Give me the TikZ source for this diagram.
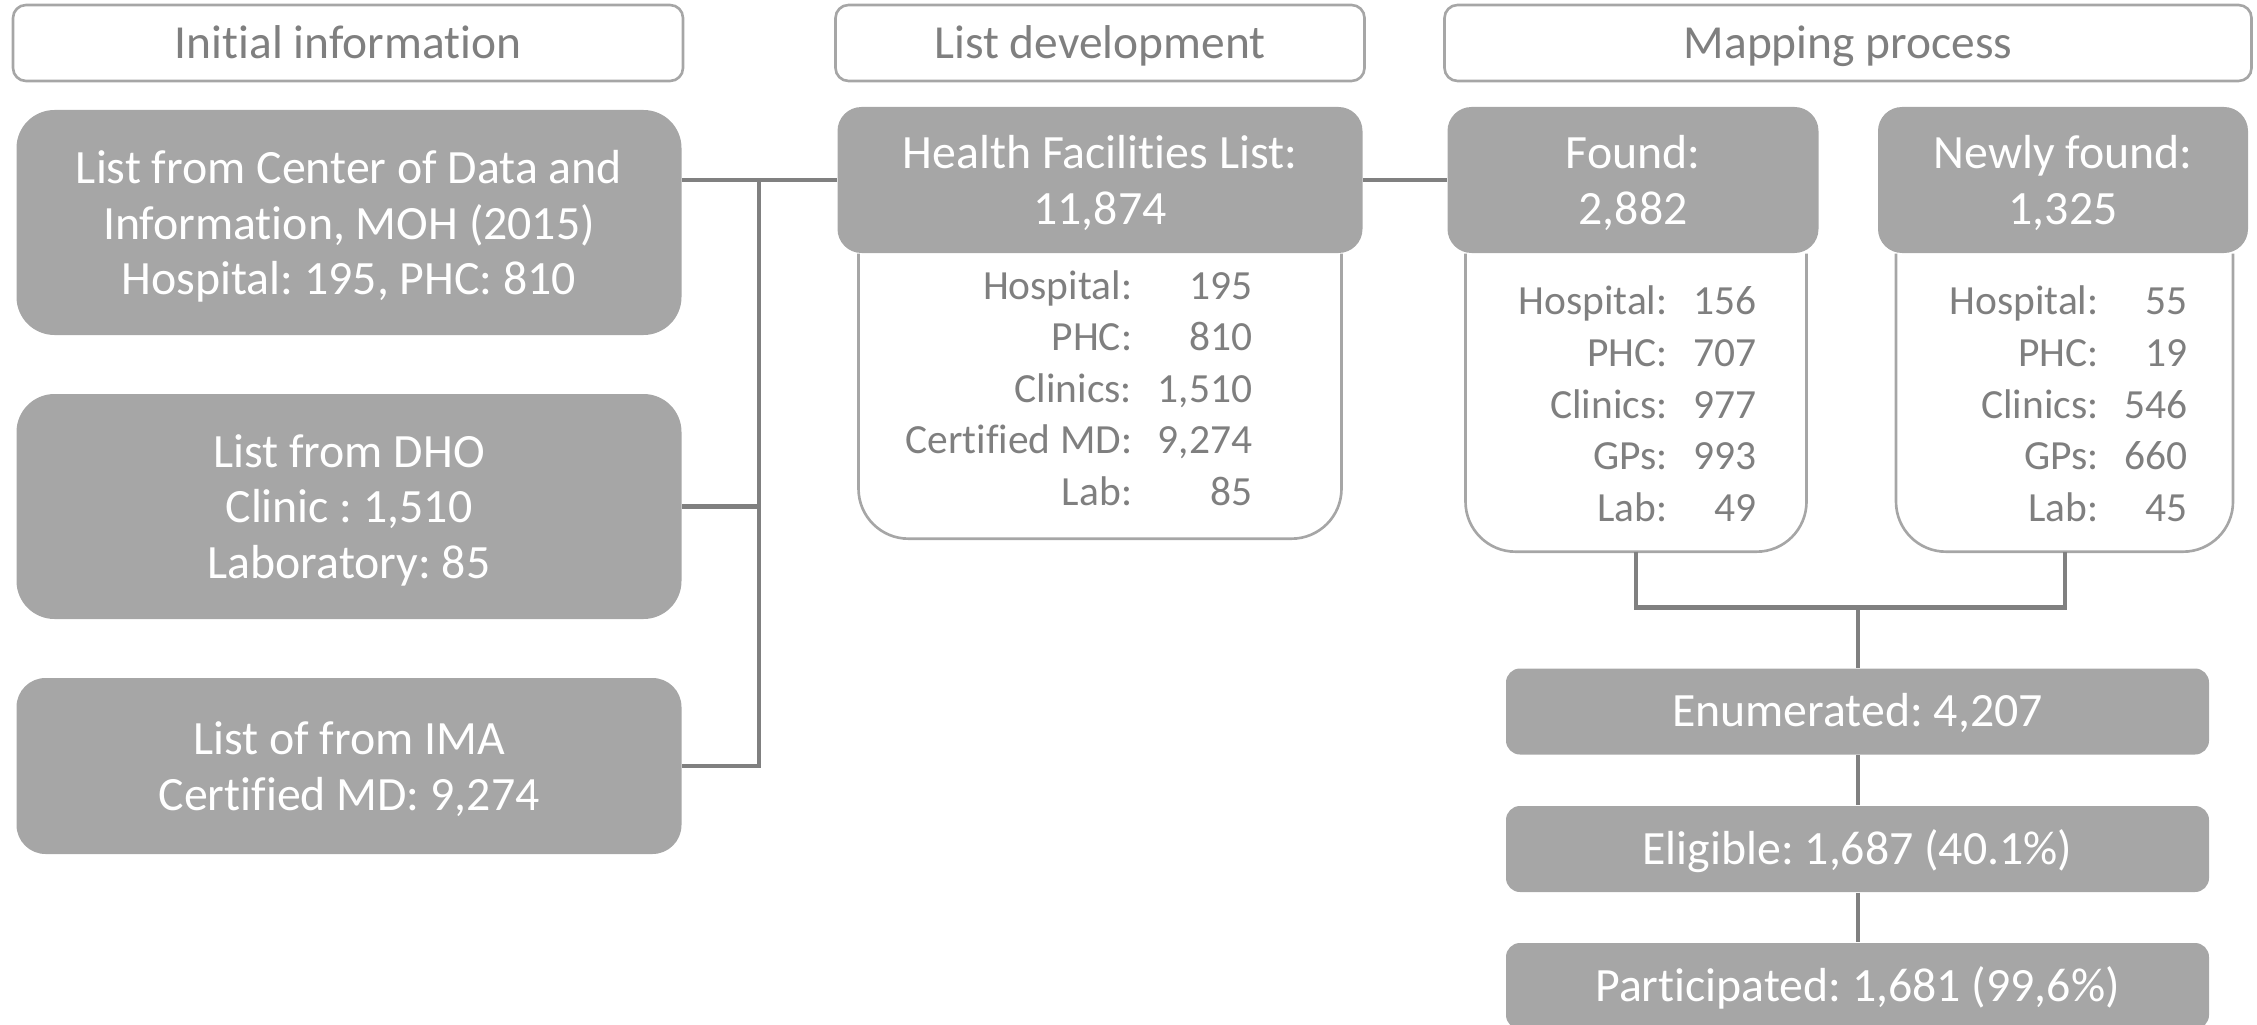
\documentclass[tikz,border=0pt]{standalone}
\usepackage{fontspec}
\setmainfont{Carlito}[Ligatures=NoCommon]
\frenchspacing
\usetikzlibrary{positioning}
\definecolor{boxgray}{HTML}{A6A6A6}
\definecolor{txtgray}{HTML}{7F7F7F}
\definecolor{linegray}{HTML}{808080}
\tikzset{
  header/.style={draw=boxgray, line width=0.75pt, rounded corners=0.13cm, text=txtgray,
    minimum height=0.76cm, text height=11.4pt, text depth=2.7pt,
    font=\fontsize{13.5}{16}\selectfont},
  srcbox/.style={fill=boxgray, text=white, align=center, inner sep=0pt, text depth=0pt,
    font=\fontsize{13.6}{15.9}\selectfont},
  onerow/.style={srcbox, text height=11.5pt, text depth=2.7pt},
  tabbox/.style={inner sep=0pt, outer sep=0pt},
  rows/.style={text=txtgray, inner sep=0pt, anchor=base east,
    font=\fontsize{11.8}{14.7}\selectfont},
  rim/.style={draw=boxgray, line width=0.75pt, rounded corners=0.5cm},
  link/.style={draw=linegray, line width=1.15pt},
}
\begin{document}
\begin{tikzpicture}[x=1cm, y=-1cm]
\useasboundingbox (0,0) rectangle (22.57,10.25);
% Encabezados
\node [header, minimum width=6.70cm] (hInit) at (3.48,0.43) {Initial information};
\node [header, minimum width=5.29cm] (hList) at (11.00,0.43) {List development};
\node [header, minimum width=8.07cm] (hMap)  at (18.48,0.43) {Mapping process};
% Fuentes
\node [srcbox, minimum width=6.65cm, minimum height=2.25cm, rounded corners=0.38cm] (cdi) at (3.49,2.225)
  {List from Center of Data and\\Information, MOH (2015)\\Hospital: 195, PHC: 810};
\node [srcbox, minimum width=6.65cm, minimum height=2.25cm, rounded corners=0.38cm] (dho) at (3.49,5.065)
  {List from DHO\\Clinic : 1,510\\Laboratory: 85};
\node [srcbox, minimum width=6.65cm, minimum height=1.76cm, rounded corners=0.29cm] (ima) at (3.49,7.66)
  {List of from IMA\\Certified MD: 9,274};
% Listas
\node [srcbox, minimum width=5.25cm, minimum height=1.46cm, rounded corners=0.24cm] (hfl) at (11.00,1.80)
  {Health Facilities List:\\11,874};
\node [srcbox, minimum width=3.71cm, minimum height=1.46cm, rounded corners=0.24cm] (fnd) at (16.33,1.80)
  {Found:\\2,882};
\node [srcbox, minimum width=3.70cm, minimum height=1.46cm, rounded corners=0.24cm] (nwf) at (20.63,1.80)
  {Newly found:\\1,325};
% Cajas blancas
\node [tabbox, below=0pt of hfl, minimum width=4.83cm, minimum height=2.85cm] (hflTab) {};
\node [tabbox, below=0pt of fnd, xshift=0.03cm, minimum width=3.41cm, minimum height=2.98cm] (fndTab) {};
\node [tabbox, below=0pt of nwf, xshift=0.015cm, minimum width=3.37cm, minimum height=2.98cm] (nwfTab) {};
\draw [rim] (hflTab.north west) -- (hflTab.south west) -- (hflTab.south east) -- (hflTab.north east);
\draw [rim] (fndTab.north west) -- (fndTab.south west) -- (fndTab.south east) -- (fndTab.north east);
\draw [rim] (nwfTab.north west) -- (nwfTab.south west) -- (nwfTab.south east) -- (nwfTab.north east);
\node [rows] (hflRows) at (12.53,2.99) {\begin{tabular}[t]{@{}r@{\hspace{0.62em}}r@{}}
  Hospital: & 195\\ PHC: & 810\\ Clinics: & 1,510\\ Certified MD: & 9,274\\ Lab: & 85\end{tabular}};
\node [rows] (fndRows) at (17.57,3.15) {\begin{tabular}[t]{@{}r@{\hspace{0.62em}}r@{}}
  Hospital: & 156\\ PHC: & 707\\ Clinics: & 977\\ GPs: & 993\\ Lab: & 49\end{tabular}};
\node [rows] (nwfRows) at (21.88,3.15) {\begin{tabular}[t]{@{}r@{\hspace{0.62em}}r@{}}
  Hospital: & 55\\ PHC: & 19\\ Clinics: & 546\\ GPs: & 660\\ Lab: & 45\end{tabular}};
% Resultados
\node [onerow, minimum width=7.03cm, minimum height=0.86cm, rounded corners=0.14cm] (enu) at (18.575,7.115)
  {Enumerated: 4,207};
\node [onerow, minimum width=7.03cm, minimum height=0.86cm, rounded corners=0.14cm] (eli) at (18.575,8.49)
  {Eligible: 1,687 (40.1\%)};
\node [onerow, minimum width=7.03cm, minimum height=0.86cm, rounded corners=0.14cm] (par) at (18.575,9.86)
  {Participated: 1,681 (99,6\%)};
% Conectores
\coordinate (bus) at (7.59,1.80);
\coordinate (join) at (18.575,6.075);
\draw [link] (cdi.east |- bus) -- (hfl.west);
\draw [link] (bus) |- (ima.east);
\draw [link] (dho.east) -- (dho.east -| bus);
\draw [link] (hfl.east) -- (fnd.west);
\draw [link] (fndTab.south) |- (join) -| (nwfTab.south);
\draw [link] (join) -- (enu.north);
\draw [link] (enu.south) -- (eli.north);
\draw [link] (eli.south) -- (par.north);
\end{tikzpicture}
\end{document}
